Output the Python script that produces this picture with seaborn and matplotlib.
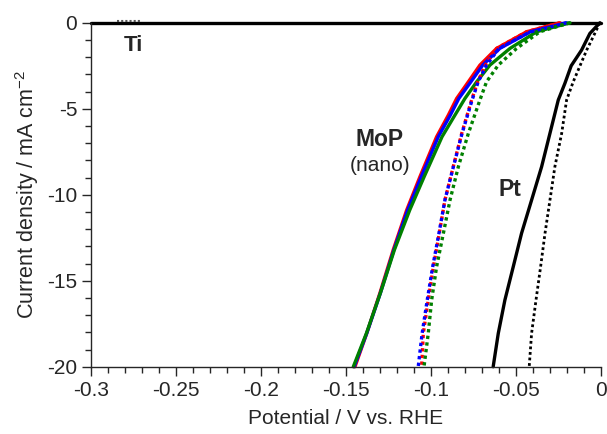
import numpy as np
import pandas as pd
import seaborn as sns
import matplotlib.pyplot as plt
from matplotlib.ticker import MultipleLocator, FuncFormatter

# values (potential V vs RHE, current density mA cm-2)
ti_E = [-0.30, -0.20, -0.10, 0.0]
ti_j = [0.0, 0.0, 0.0, 0.0]
ti_dot_E = [-0.285, -0.277, -0.270]
ti_dot_j = [0.1, 0.1, 0.1]

# MoP (nano), solid = first scan
mop_red_E = [-0.0241, -0.0437, -0.0614, -0.0712, -0.0780, -0.0849, -0.0898, -0.0967, -0.1065, -0.1143, -0.1222, -0.1300, -0.1378, -0.1447]
mop_red_j = [0.0, -0.52, -1.49, -2.46, -3.43, -4.4, -5.37, -6.63, -8.95, -10.89, -13.2, -15.7, -18.06, -20.0]
mop_blue_E = [-0.0202, -0.0415, -0.0595, -0.0695, -0.0765, -0.0836, -0.0886, -0.0957, -0.1057, -0.1137, -0.1218, -0.1297, -0.1378, -0.1452]
mop_blue_j = [0.0, -0.52, -1.49, -2.46, -3.43, -4.4, -5.37, -6.63, -8.95, -10.89, -13.2, -15.7, -18.06, -20.0]
mop_green_E = [-0.0182, -0.0378, -0.0535, -0.0653, -0.0731, -0.0800, -0.0859, -0.0935, -0.1040, -0.1125, -0.1215, -0.1297, -0.1380, -0.1457]
mop_green_j = [0.0, -0.52, -1.49, -2.46, -3.43, -4.4, -5.37, -6.63, -8.95, -10.89, -13.2, -15.7, -18.06, -20.0]

# MoP (nano), dotted
mopd_red_E = [-0.0241, -0.0437, -0.0614, -0.0680, -0.0725, -0.0761, -0.0819, -0.0869, -0.0918, -0.0951, -0.0986, -0.1016, -0.1045, -0.1055]
mopd_red_j = [0.0, -0.52, -1.49, -2.46, -3.43, -4.49, -6.43, -8.37, -10.31, -12.24, -14.19, -16.12, -18.06, -20.0]
mopd_blue_E = [-0.0202, -0.0415, -0.0600, -0.0673, -0.0722, -0.0758, -0.0817, -0.0868, -0.0918, -0.0953, -0.0990, -0.1022, -0.1052, -0.1075]
mopd_blue_j = [0.0, -0.52, -1.49, -2.46, -3.43, -4.49, -6.43, -8.37, -10.31, -12.24, -14.19, -16.12, -18.06, -20.0]
mopd_green_E = [-0.0182, -0.0359, -0.0496, -0.0604, -0.0673, -0.0712, -0.0780, -0.0839, -0.0888, -0.0927, -0.0967, -0.0996, -0.1016, -0.1041]
mopd_green_j = [0.0, -0.52, -1.49, -2.46, -3.43, -4.49, -6.43, -8.37, -10.31, -12.24, -14.19, -16.12, -18.06, -20.0]

# Pt
pt_E = [-0.0006, -0.0065, -0.0114, -0.0175, -0.0212, -0.0251, -0.0300, -0.0349, -0.0408, -0.0467, -0.0516, -0.0565, -0.0604, -0.0634]
pt_j = [0.0, -0.62, -1.59, -2.5, -3.52, -4.49, -6.43, -8.37, -10.31, -12.24, -14.19, -16.12, -18.06, -20.0]
ptd_E = [-0.0006, -0.0045, -0.0084, -0.0163, -0.0202, -0.0231, -0.0271, -0.0300, -0.0329, -0.0355, -0.0382, -0.0408, -0.0422]
ptd_j = [0.0, -0.8, -1.59, -3.43, -4.49, -6.43, -8.37, -10.31, -12.24, -14.19, -16.12, -18.06, -20.0]

sns.set_style('ticks')
plt.rcParams['font.family'] = ['Liberation Sans', 'DejaVu Sans']
plt.rcParams['mathtext.default'] = 'regular'
plt.rcParams['axes.unicode_minus'] = False

fig = plt.figure(figsize=(6.07, 4.34), dpi=100)
ax = fig.add_axes([0.150, 0.155, 0.840, 0.7925])

dot = (0, (1, 1))
series = [
    (ti_E, ti_j, 'black', '-', 2.4),
    (ti_dot_E, ti_dot_j, '#555555', dot, 1.5),
    (mop_red_E, mop_red_j, 'red', '-', 2.4),
    (mop_blue_E, mop_blue_j, 'blue', '-', 2.4),
    (mop_green_E, mop_green_j, 'green', '-', 2.4),
    (mopd_red_E, mopd_red_j, 'red', dot, 2.4),
    (mopd_blue_E, mopd_blue_j, 'blue', dot, 2.4),
    (mopd_green_E, mopd_green_j, 'green', dot, 2.4),
    (pt_E, pt_j, 'black', '-', 2.4),
    (ptd_E, ptd_j, 'black', dot, 2.0),
]
for E, j, c, ls, lw in series:
    df = pd.DataFrame({'E': E, 'j': j})
    sns.lineplot(data=df, x='E', y='j', ax=ax, color=c, linestyle=ls,
                 linewidth=lw, sort=False, estimator=None, clip_on=False)

ax.set_xlim(-0.3, 0)
ax.set_ylim(-20, 0)
ax.xaxis.set_major_locator(MultipleLocator(0.05))
ax.xaxis.set_minor_locator(MultipleLocator(0.01))
ax.yaxis.set_major_locator(MultipleLocator(5))
ax.yaxis.set_minor_locator(MultipleLocator(1))
ax.xaxis.set_major_formatter(FuncFormatter(lambda v, p: '0' if abs(v) < 1e-9 else ('%g' % round(v, 3))))
ax.tick_params(which='major', length=6.5, width=1, labelsize=15, direction='out')
ax.tick_params(which='minor', length=4, width=1, direction='out')
sns.despine(ax=ax)
for s in ['left', 'bottom']:
    ax.spines[s].set_linewidth(1)

ax.set_xlabel('Potential / V vs. RHE', fontsize=15)
ax.set_ylabel('Current density / mA cm$^{-2}$', fontsize=15.5)
ax.yaxis.set_label_coords(-0.098, 0.5)
ax.xaxis.set_label_coords(0.5, -0.122)

ax.text(-0.2753, -1.3, 'Ti', fontsize=16, fontweight='bold', ha='center', va='center')
ax.text(-0.130, -6.8, 'MoP', fontsize=16.5, fontweight='bold', ha='center', va='center')
ax.text(-0.130, -8.3, '(nano)', fontsize=15, ha='center', va='center')
ax.text(-0.0535, -9.7, 'Pt', fontsize=16.5, fontweight='bold', ha='center', va='center')

fig.savefig('out.png', dpi=100)
